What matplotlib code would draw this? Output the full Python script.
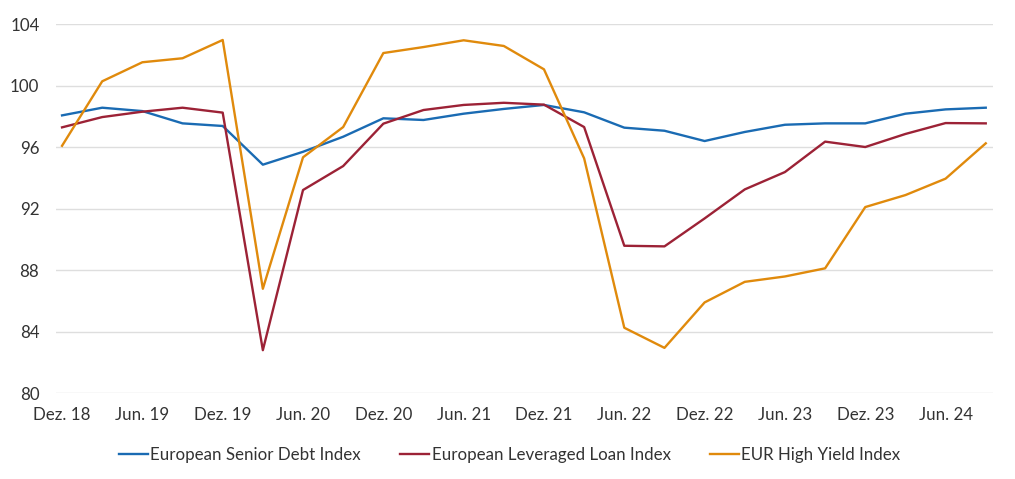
import matplotlib
matplotlib.use("Agg")
from matplotlib import pyplot as plt
import numpy as np

plt.rcParams['font.family'] = ['Lato', 'DejaVu Sans']

# Quartale Dez. 18 bis Sep. 24
quartale = ["Dez. 18", "Mrz. 19", "Jun. 19", "Sep. 19", "Dez. 19", "Mrz. 20",
            "Jun. 20", "Sep. 20", "Dez. 20", "Mrz. 21", "Jun. 21", "Sep. 21",
            "Dez. 21", "Mrz. 22", "Jun. 22", "Sep. 22", "Dez. 22", "Mrz. 23",
            "Jun. 23", "Sep. 23", "Dez. 23", "Mrz. 24", "Jun. 24", "Sep. 24"]

senior_debt = [98.08, 98.58, 98.36, 97.56, 97.39, 94.87, 95.71, 96.69, 97.89, 97.78,
               98.19, 98.50, 98.76, 98.28, 97.28, 97.08, 96.41, 97.00, 97.47, 97.56,
               97.56, 98.19, 98.47, 98.58]
leveraged_loan = [97.30, 97.97, 98.32, 98.58, 98.26, 82.79, 93.22, 94.78, 97.54, 98.43,
                  98.76, 98.90, 98.78, 97.32, 89.59, 89.55, 91.37, 93.26, 94.39, 96.37,
                  96.02, 96.87, 97.58, 97.56]
high_yield = [96.10, 100.30, 101.54, 101.80, 102.99, 86.79, 95.35, 97.32, 102.14, 102.53,
              102.97, 102.60, 101.08, 95.28, 84.25, 82.94, 85.90, 87.24, 87.59, 88.12,
              92.11, 92.89, 93.96, 96.26]

y_ticks = [80, 84, 88, 92, 96, 100, 104]

fig = plt.figure(figsize=(10.15, 4.79), dpi=100)
ax = fig.add_axes([0.0552, 0.1795, 0.9231, 0.7694])

x = np.arange(len(quartale))
ax.plot(x, senior_debt, color="#1a6bb3", lw=1.7, label="European Senior Debt Index")
ax.plot(x, leveraged_loan, color="#9c2236", lw=1.7, label="European Leveraged Loan Index")
ax.plot(x, high_yield, color="#e08a0c", lw=1.7, label="EUR High Yield Index")

ax.set_ylim(80, 104)
ax.set_xlim(-0.15, 23.18)
ax.set_yticks(y_ticks)
ax.set_xticks(x[::2])
ax.set_xticklabels(quartale[::2])
ax.grid(axis="y", color="#dedede", lw=1)
ax.set_axisbelow(True)
for s in ax.spines.values():
    s.set_visible(False)
ax.tick_params(length=0, labelsize=12.2, colors="#333333")
ax.tick_params(axis="x", pad=10)
ax.tick_params(axis="y", pad=12)

ax.legend(loc="center", bbox_to_anchor=(0.502, 0.05), bbox_transform=fig.transFigure,
          ncol=3, frameon=False, fontsize=12.2, handlelength=1.72, handletextpad=0.15,
          columnspacing=2.3, labelcolor="#333333")

fig.savefig("out.png", dpi=100)
